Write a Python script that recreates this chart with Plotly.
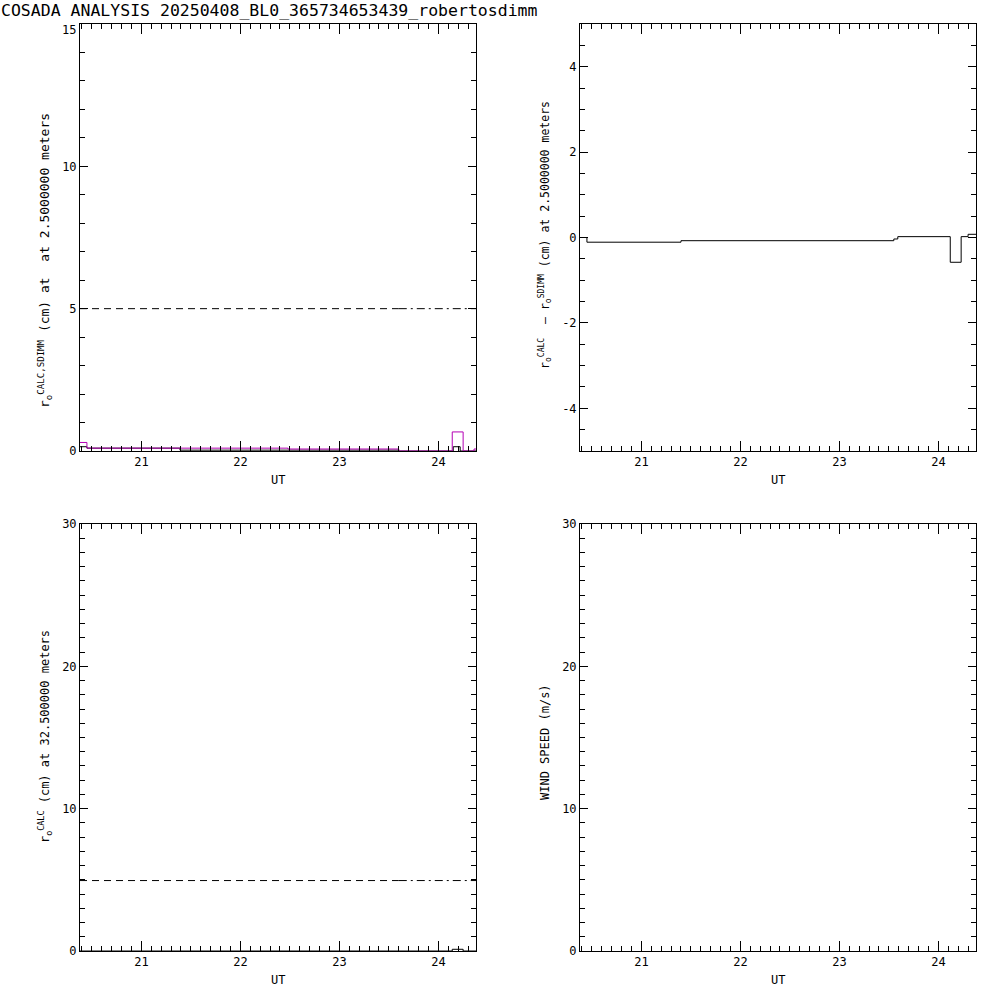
import plotly.graph_objects as go

# ---- data ----
title_text = "COSADA ANALYSIS 20250408_BL0_365734653439_robertosdimm"
x_range = [20.38, 24.38]
x_ticks = [21, 22, 23, 24]

# top-left: r0 CALC (black) and SDIMM (magenta), step histograms
tl_calc_x = [20.38, 20.45, 21.39, 23.60, 24.15, 24.22, 24.38]
tl_calc_y = [0.15, 0.10, 0.03, 0.0, 0.15, 0.0, 0.0]
tl_sdimm_x = [20.38, 20.45, 22.48, 23.60, 24.14, 24.25, 24.36, 24.38]
tl_sdimm_y = [0.30, 0.10, 0.07, 0.0, 0.67, 0.0, 0.07, 0.07]
tl_ref_x = [20.38, 23.60]
tl_ref_y = [5.0, 5.0]
tl_ref2_x = [23.60, 24.38]
tl_ref2_y = [5.0, 5.0]

# top-right: difference CALC - SDIMM
tr_x = [20.38, 20.45, 21.40, 23.55, 23.59, 24.12, 24.23, 24.30, 24.38]
tr_y = [0.0, -0.11, -0.075, -0.035, 0.02, -0.58, 0.02, 0.075, 0.075]

# bottom-left: r0 CALC at 32.5 m
bl_x = [20.38, 24.14, 24.25, 24.38]
bl_y = [0.0, 0.12, 0.0, 0.0]
bl_ref_x = [20.38, 23.60]
bl_ref_y = [4.95, 4.95]
bl_ref2_x = [23.60, 24.38]
bl_ref2_y = [4.95, 4.95]

FONT = "DejaVu Sans Mono"
MAG = "#b400b4"
NB = "\u00a0"

fig = go.Figure()
def step(x, y, xa, ya, color="black", width=1, dash="solid"):
    fig.add_trace(go.Scatter(x=x, y=y, mode="lines", line=dict(color=color, width=width, dash=dash, shape="hv"),
                             xaxis=xa, yaxis=ya, showlegend=False, hoverinfo="skip", cliponaxis=False))

step(tl_calc_x, tl_calc_y, "x", "y")
step(tl_sdimm_x, tl_sdimm_y, "x", "y", color=MAG)
step(tl_ref_x, tl_ref_y, "x", "y", dash="7px,5px")
step(tl_ref2_x, tl_ref2_y, "x", "y", dash="8px,4px,2px,4px")
step(tr_x, tr_y, "x2", "y2")
step(bl_x, bl_y, "x3", "y3")
step(bl_ref_x, bl_ref_y, "x3", "y3", dash="7px,5px")
step(bl_ref2_x, bl_ref2_y, "x3", "y3", dash="8px,4px,2px,4px")
# empty trace for wind panel
fig.add_trace(go.Scatter(x=[], y=[], xaxis="x4", yaxis="y4", showlegend=False))

tickfont = dict(family=FONT, size=12, color="black")
def xaxis(dom, anchor):
    return dict(domain=dom, anchor=anchor, range=x_range, tickvals=x_ticks, ticks="inside", ticklen=10,
                tickcolor="black", showline=True, linecolor="black", linewidth=1, mirror="allticks",
                showgrid=False, zeroline=False, tickfont=tickfont, automargin=False,
                minor=dict(dtick=0.1, tick0=21, ticks="inside", ticklen=5, tickcolor="black", showgrid=False))
def yaxis(dom, anchor, rng, tv, tt, mdt):
    return dict(domain=dom, anchor=anchor, range=rng, tickvals=tv, ticktext=tt, ticks="inside", ticklen=8,
                tickcolor="black", showline=True, linecolor="black", linewidth=1, mirror="allticks",
                showgrid=False, zeroline=False, tickfont=tickfont, automargin=False,
                minor=dict(dtick=mdt, tick0=0, ticks="inside", ticklen=5, tickcolor="black", showgrid=False))

xl = [0.08, 0.476]
xr = [0.58, 0.976]
yt = [0.549, 0.976]
yb = [0.049, 0.476]
fig.update_layout(
    width=1000, height=1000, autosize=False,
    margin=dict(l=0, r=0, t=0, b=0, pad=0),
    paper_bgcolor="white", plot_bgcolor="white",
    font=dict(family=FONT, size=12, color="black"),
    xaxis=xaxis(xl, "y"),
    # top tick label "15" is placed as an annotation just below the top so it clears the title
    yaxis=yaxis(yt, "x", [0, 15], [0, 5, 10, 15], ["0", "5", "10", ""], 1),
    xaxis2=xaxis(xr, "y2"),
    yaxis2=yaxis(yt, "x2", [-5, 5], [-4, -2, 0, 2, 4], ["-4", "-2", "0", "2", "4"], 0.5),
    xaxis3=xaxis(xl, "y3"),
    yaxis3=yaxis(yb, "x3", [0, 30], [0, 10, 20, 30], ["0", "10", "20", "30"], 1),
    xaxis4=xaxis(xr, "y4"),
    yaxis4=yaxis(yb, "x4", [0, 30], [0, 10, 20, 30], ["0", "10", "20", "30"], 1),
)

ann = [
    dict(text=title_text, x=0.0, y=1.0, xanchor="left", yanchor="top", borderpad=0,
         font=dict(size=16.5)),
    dict(text="15", x=0.077, y=1 - 30 / 1000, xanchor="right", yanchor="middle", borderpad=0),
    dict(text="UT", x=0.278, y=1 - 480 / 1000, xanchor="center", yanchor="middle"),
    dict(text="UT", x=0.778, y=1 - 480 / 1000, xanchor="center", yanchor="middle"),
    dict(text="UT", x=0.278, y=1 - 980 / 1000, xanchor="center", yanchor="middle"),
    dict(text="UT", x=0.778, y=1 - 980 / 1000, xanchor="center", yanchor="middle"),
    dict(text=f"r<sub>o</sub><sup>CALC,SDIMM</sup> (cm) at{NB} at 2.5000000 meters", x=0.045, y=1 - 261 / 1000,
         textangle=-90, xanchor="center", yanchor="middle", font=dict(size=13)),
    dict(text=f"r<sub>o</sub><sup>CALC</sup>{NB} — r<sub>o</sub><sup>SDIMM</sup> (cm) at 2.5000000 meters", x=0.545,
         y=1 - 235 / 1000, textangle=-90, xanchor="center", yanchor="middle", font=dict(size=11.5)),
    dict(text="r<sub>o</sub><sup>CALC</sup> (cm) at 32.500000 meters", x=0.045, y=1 - 737 / 1000,
         textangle=-90, xanchor="center", yanchor="middle"),
    dict(text="WIND SPEED (m/s)", x=0.545, y=1 - 742 / 1000, textangle=-90, xanchor="center", yanchor="middle"),
]
for a in ann:
    a.update(xref="paper", yref="paper", showarrow=False)
    a.setdefault("font", dict(size=12))
    a["font"].setdefault("family", FONT)
    a["font"].setdefault("color", "black")
fig.update_layout(annotations=ann)

fig.write_html("out.html", config={"displayModeBar": False},
               post_script="document.body.style.margin='0';document.body.style.overflow='hidden';")
